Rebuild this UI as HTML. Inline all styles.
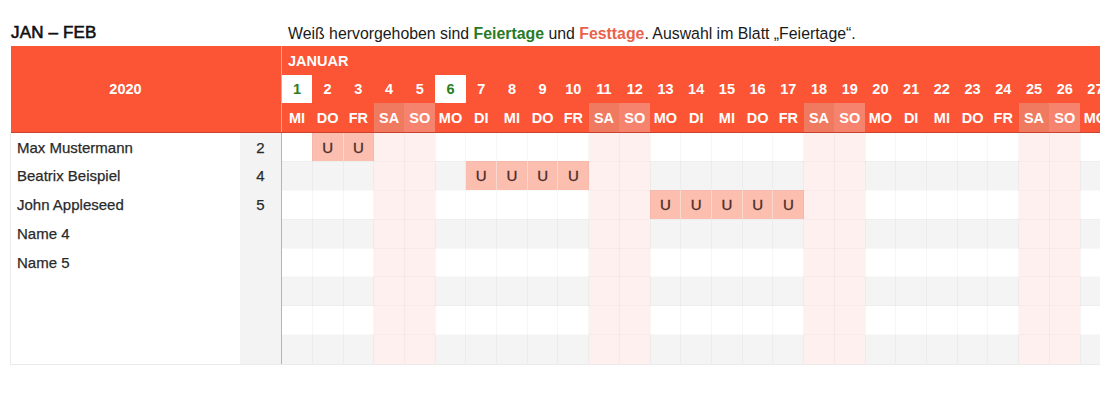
<!DOCTYPE html><html><head><meta charset="utf-8"><style>
*{margin:0;padding:0;box-sizing:border-box}
html,body{width:1100px;height:400px;overflow:hidden;background:#fff;font-family:"Liberation Sans",sans-serif;}
.a{position:absolute}
.t{position:absolute;white-space:nowrap}
</style></head><body>
<div class="t" style="left:11.00px;top:22.50px;font-size:17px;color:#111;-webkit-text-stroke:0.6px #111;line-height:20px;letter-spacing:0.15px;">JAN – FEB</div>
<div class="t" style="left:288.00px;top:24.50px;font-size:15.85px;color:#1a1a1a;line-height:18px;">Weiß hervorgehoben sind <b style="color:#287a26">Feiertage</b> und <b style="color:#e9624a">Festtage</b>. Auswahl im Blatt „Feiertage“.</div>
<div class="a" style="left:11.000px;top:46.000px;width:1089.000px;height:86.000px;background:#fb5535;"></div>
<div class="a" style="left:11.000px;top:132.000px;width:1089.000px;height:1.000px;background:#c8432f;"></div>
<div class="a" style="left:281.000px;top:46.000px;width:1.000px;height:86.000px;background:#f8a590;"></div>
<div class="a" style="left:11.000px;top:132.500px;width:229.000px;height:231.000px;background:#fff;"></div>
<div class="a" style="left:240.000px;top:132.500px;width:41.000px;height:231.000px;background:#f3f3f3;"></div>
<div class="a" style="left:281.000px;top:132.500px;width:1.000px;height:231.000px;background:#b4b4b4;"></div>
<div class="a" style="left:281.600px;top:132.500px;width:818.400px;height:28.875px;background:#fff;"></div>
<div class="a" style="left:281.600px;top:161.375px;width:818.400px;height:28.875px;background:#f4f4f4;"></div>
<div class="a" style="left:281.600px;top:190.250px;width:818.400px;height:28.875px;background:#fff;"></div>
<div class="a" style="left:281.600px;top:219.125px;width:818.400px;height:28.875px;background:#f4f4f4;"></div>
<div class="a" style="left:281.600px;top:248.000px;width:818.400px;height:28.875px;background:#fff;"></div>
<div class="a" style="left:281.600px;top:276.875px;width:818.400px;height:28.875px;background:#f4f4f4;"></div>
<div class="a" style="left:281.600px;top:305.750px;width:818.400px;height:28.875px;background:#fff;"></div>
<div class="a" style="left:281.600px;top:334.625px;width:818.400px;height:28.875px;background:#f4f4f4;"></div>
<div class="a" style="left:281.600px;top:74.500px;width:30.710px;height:28.700px;background:#fff;"></div>
<div class="a" style="left:373.730px;top:132.500px;width:30.710px;height:231.000px;background:#fdf0ee;"></div>
<div class="a" style="left:373.730px;top:103.200px;width:30.710px;height:28.800px;background:#ef7a5f;"></div>
<div class="a" style="left:404.440px;top:132.500px;width:30.710px;height:231.000px;background:#fdf0ee;"></div>
<div class="a" style="left:404.440px;top:103.200px;width:30.710px;height:28.800px;background:#f5836d;"></div>
<div class="a" style="left:435.150px;top:74.500px;width:30.710px;height:28.700px;background:#fff;"></div>
<div class="a" style="left:588.700px;top:132.500px;width:30.710px;height:231.000px;background:#fdf0ee;"></div>
<div class="a" style="left:588.700px;top:103.200px;width:30.710px;height:28.800px;background:#ef7a5f;"></div>
<div class="a" style="left:619.410px;top:132.500px;width:30.710px;height:231.000px;background:#fdf0ee;"></div>
<div class="a" style="left:619.410px;top:103.200px;width:30.710px;height:28.800px;background:#f5836d;"></div>
<div class="a" style="left:803.670px;top:132.500px;width:30.710px;height:231.000px;background:#fdf0ee;"></div>
<div class="a" style="left:803.670px;top:103.200px;width:30.710px;height:28.800px;background:#ef7a5f;"></div>
<div class="a" style="left:834.380px;top:132.500px;width:30.710px;height:231.000px;background:#fdf0ee;"></div>
<div class="a" style="left:834.380px;top:103.200px;width:30.710px;height:28.800px;background:#f5836d;"></div>
<div class="a" style="left:1018.640px;top:132.500px;width:30.710px;height:231.000px;background:#fdf0ee;"></div>
<div class="a" style="left:1018.640px;top:103.200px;width:30.710px;height:28.800px;background:#ef7a5f;"></div>
<div class="a" style="left:1049.350px;top:132.500px;width:30.710px;height:231.000px;background:#fdf0ee;"></div>
<div class="a" style="left:1049.350px;top:103.200px;width:30.710px;height:28.800px;background:#f5836d;"></div>
<div class="a" style="left:312.310px;top:132.500px;width:30.710px;height:28.875px;background:#fbbeaf;"></div>
<div class="a" style="left:343.020px;top:132.500px;width:30.710px;height:28.875px;background:#fbbeaf;"></div>
<div class="a" style="left:465.860px;top:161.375px;width:30.710px;height:28.875px;background:#fbbeaf;"></div>
<div class="a" style="left:496.570px;top:161.375px;width:30.710px;height:28.875px;background:#fbbeaf;"></div>
<div class="a" style="left:527.280px;top:161.375px;width:30.710px;height:28.875px;background:#fbbeaf;"></div>
<div class="a" style="left:557.990px;top:161.375px;width:30.710px;height:28.875px;background:#fbbeaf;"></div>
<div class="a" style="left:650.120px;top:190.250px;width:30.710px;height:28.875px;background:#fbbeaf;"></div>
<div class="a" style="left:680.830px;top:190.250px;width:30.710px;height:28.875px;background:#fbbeaf;"></div>
<div class="a" style="left:711.540px;top:190.250px;width:30.710px;height:28.875px;background:#fbbeaf;"></div>
<div class="a" style="left:742.250px;top:190.250px;width:30.710px;height:28.875px;background:#fbbeaf;"></div>
<div class="a" style="left:772.960px;top:190.250px;width:30.710px;height:28.875px;background:#fbbeaf;"></div>
<div class="a" style="left:311.810px;top:132.500px;width:1.000px;height:231.000px;background:rgba(120,90,90,0.05);"></div>
<div class="a" style="left:342.520px;top:132.500px;width:1.000px;height:231.000px;background:rgba(120,90,90,0.05);"></div>
<div class="a" style="left:373.230px;top:132.500px;width:1.000px;height:231.000px;background:rgba(120,90,90,0.05);"></div>
<div class="a" style="left:403.940px;top:132.500px;width:1.000px;height:231.000px;background:rgba(120,90,90,0.05);"></div>
<div class="a" style="left:434.650px;top:132.500px;width:1.000px;height:231.000px;background:rgba(120,90,90,0.05);"></div>
<div class="a" style="left:465.360px;top:132.500px;width:1.000px;height:231.000px;background:rgba(120,90,90,0.05);"></div>
<div class="a" style="left:496.070px;top:132.500px;width:1.000px;height:231.000px;background:rgba(120,90,90,0.05);"></div>
<div class="a" style="left:526.780px;top:132.500px;width:1.000px;height:231.000px;background:rgba(120,90,90,0.05);"></div>
<div class="a" style="left:557.490px;top:132.500px;width:1.000px;height:231.000px;background:rgba(120,90,90,0.05);"></div>
<div class="a" style="left:588.200px;top:132.500px;width:1.000px;height:231.000px;background:rgba(120,90,90,0.05);"></div>
<div class="a" style="left:618.910px;top:132.500px;width:1.000px;height:231.000px;background:rgba(120,90,90,0.05);"></div>
<div class="a" style="left:649.620px;top:132.500px;width:1.000px;height:231.000px;background:rgba(120,90,90,0.05);"></div>
<div class="a" style="left:680.330px;top:132.500px;width:1.000px;height:231.000px;background:rgba(120,90,90,0.05);"></div>
<div class="a" style="left:711.040px;top:132.500px;width:1.000px;height:231.000px;background:rgba(120,90,90,0.05);"></div>
<div class="a" style="left:741.750px;top:132.500px;width:1.000px;height:231.000px;background:rgba(120,90,90,0.05);"></div>
<div class="a" style="left:772.460px;top:132.500px;width:1.000px;height:231.000px;background:rgba(120,90,90,0.05);"></div>
<div class="a" style="left:803.170px;top:132.500px;width:1.000px;height:231.000px;background:rgba(120,90,90,0.05);"></div>
<div class="a" style="left:833.880px;top:132.500px;width:1.000px;height:231.000px;background:rgba(120,90,90,0.05);"></div>
<div class="a" style="left:864.590px;top:132.500px;width:1.000px;height:231.000px;background:rgba(120,90,90,0.05);"></div>
<div class="a" style="left:895.300px;top:132.500px;width:1.000px;height:231.000px;background:rgba(120,90,90,0.05);"></div>
<div class="a" style="left:926.010px;top:132.500px;width:1.000px;height:231.000px;background:rgba(120,90,90,0.05);"></div>
<div class="a" style="left:956.720px;top:132.500px;width:1.000px;height:231.000px;background:rgba(120,90,90,0.05);"></div>
<div class="a" style="left:987.430px;top:132.500px;width:1.000px;height:231.000px;background:rgba(120,90,90,0.05);"></div>
<div class="a" style="left:1018.140px;top:132.500px;width:1.000px;height:231.000px;background:rgba(120,90,90,0.05);"></div>
<div class="a" style="left:1048.850px;top:132.500px;width:1.000px;height:231.000px;background:rgba(120,90,90,0.05);"></div>
<div class="a" style="left:1079.560px;top:132.500px;width:1.000px;height:231.000px;background:rgba(120,90,90,0.05);"></div>
<div class="a" style="left:1110.270px;top:132.500px;width:1.000px;height:231.000px;background:rgba(120,90,90,0.05);"></div>
<div class="a" style="left:281.600px;top:160.875px;width:818.400px;height:1.000px;background:rgba(120,90,90,0.04);"></div>
<div class="a" style="left:281.600px;top:189.750px;width:818.400px;height:1.000px;background:rgba(120,90,90,0.04);"></div>
<div class="a" style="left:281.600px;top:218.625px;width:818.400px;height:1.000px;background:rgba(120,90,90,0.04);"></div>
<div class="a" style="left:281.600px;top:247.500px;width:818.400px;height:1.000px;background:rgba(120,90,90,0.04);"></div>
<div class="a" style="left:281.600px;top:276.375px;width:818.400px;height:1.000px;background:rgba(120,90,90,0.04);"></div>
<div class="a" style="left:281.600px;top:305.250px;width:818.400px;height:1.000px;background:rgba(120,90,90,0.04);"></div>
<div class="a" style="left:281.600px;top:334.125px;width:818.400px;height:1.000px;background:rgba(120,90,90,0.04);"></div>
<div class="a" style="left:342.520px;top:132.500px;width:1.000px;height:28.875px;background:rgba(255,255,255,0.45);"></div>
<div class="a" style="left:496.070px;top:161.375px;width:1.000px;height:28.875px;background:rgba(255,255,255,0.45);"></div>
<div class="a" style="left:526.780px;top:161.375px;width:1.000px;height:28.875px;background:rgba(255,255,255,0.45);"></div>
<div class="a" style="left:557.490px;top:161.375px;width:1.000px;height:28.875px;background:rgba(255,255,255,0.45);"></div>
<div class="a" style="left:680.330px;top:190.250px;width:1.000px;height:28.875px;background:rgba(255,255,255,0.45);"></div>
<div class="a" style="left:711.040px;top:190.250px;width:1.000px;height:28.875px;background:rgba(255,255,255,0.45);"></div>
<div class="a" style="left:741.750px;top:190.250px;width:1.000px;height:28.875px;background:rgba(255,255,255,0.45);"></div>
<div class="a" style="left:772.460px;top:190.250px;width:1.000px;height:28.875px;background:rgba(255,255,255,0.45);"></div>
<div class="a" style="left:10.000px;top:132.500px;width:1.000px;height:231.000px;background:#ebebeb;"></div>
<div class="a" style="left:10.000px;top:363.500px;width:1100.000px;height:1.000px;background:#ebebeb;"></div>
<div class="t" style="left:85.50px;top:79.00px;width:80.00px;text-align:center;font-size:14.5px;font-weight:bold;color:#fff;line-height:20px;">2020</div>
<div class="t" style="left:288.00px;top:51.00px;font-size:14.5px;font-weight:bold;color:#fff;line-height:20px;">JANUAR</div>
<div class="t" style="left:281.60px;top:79.00px;width:30.71px;text-align:center;font-size:14.5px;font-weight:bold;color:#2a7d22;line-height:20px;">1</div>
<div class="t" style="left:279.60px;top:108.00px;width:34.71px;text-align:center;font-size:14.5px;font-weight:bold;color:#fff;line-height:20px;">MI</div>
<div class="t" style="left:312.31px;top:79.00px;width:30.71px;text-align:center;font-size:14.5px;font-weight:bold;color:#fff;line-height:20px;">2</div>
<div class="t" style="left:310.31px;top:108.00px;width:34.71px;text-align:center;font-size:14.5px;font-weight:bold;color:#fff;line-height:20px;">DO</div>
<div class="t" style="left:343.02px;top:79.00px;width:30.71px;text-align:center;font-size:14.5px;font-weight:bold;color:#fff;line-height:20px;">3</div>
<div class="t" style="left:341.02px;top:108.00px;width:34.71px;text-align:center;font-size:14.5px;font-weight:bold;color:#fff;line-height:20px;">FR</div>
<div class="t" style="left:373.73px;top:79.00px;width:30.71px;text-align:center;font-size:14.5px;font-weight:bold;color:#fff;line-height:20px;">4</div>
<div class="t" style="left:371.73px;top:108.00px;width:34.71px;text-align:center;font-size:14.5px;font-weight:bold;color:#fff;line-height:20px;">SA</div>
<div class="t" style="left:404.44px;top:79.00px;width:30.71px;text-align:center;font-size:14.5px;font-weight:bold;color:#fff;line-height:20px;">5</div>
<div class="t" style="left:402.44px;top:108.00px;width:34.71px;text-align:center;font-size:14.5px;font-weight:bold;color:#fff;line-height:20px;">SO</div>
<div class="t" style="left:435.15px;top:79.00px;width:30.71px;text-align:center;font-size:14.5px;font-weight:bold;color:#2a7d22;line-height:20px;">6</div>
<div class="t" style="left:433.15px;top:108.00px;width:34.71px;text-align:center;font-size:14.5px;font-weight:bold;color:#fff;line-height:20px;">MO</div>
<div class="t" style="left:465.86px;top:79.00px;width:30.71px;text-align:center;font-size:14.5px;font-weight:bold;color:#fff;line-height:20px;">7</div>
<div class="t" style="left:463.86px;top:108.00px;width:34.71px;text-align:center;font-size:14.5px;font-weight:bold;color:#fff;line-height:20px;">DI</div>
<div class="t" style="left:496.57px;top:79.00px;width:30.71px;text-align:center;font-size:14.5px;font-weight:bold;color:#fff;line-height:20px;">8</div>
<div class="t" style="left:494.57px;top:108.00px;width:34.71px;text-align:center;font-size:14.5px;font-weight:bold;color:#fff;line-height:20px;">MI</div>
<div class="t" style="left:527.28px;top:79.00px;width:30.71px;text-align:center;font-size:14.5px;font-weight:bold;color:#fff;line-height:20px;">9</div>
<div class="t" style="left:525.28px;top:108.00px;width:34.71px;text-align:center;font-size:14.5px;font-weight:bold;color:#fff;line-height:20px;">DO</div>
<div class="t" style="left:557.99px;top:79.00px;width:30.71px;text-align:center;font-size:14.5px;font-weight:bold;color:#fff;line-height:20px;">10</div>
<div class="t" style="left:555.99px;top:108.00px;width:34.71px;text-align:center;font-size:14.5px;font-weight:bold;color:#fff;line-height:20px;">FR</div>
<div class="t" style="left:588.70px;top:79.00px;width:30.71px;text-align:center;font-size:14.5px;font-weight:bold;color:#fff;line-height:20px;">11</div>
<div class="t" style="left:586.70px;top:108.00px;width:34.71px;text-align:center;font-size:14.5px;font-weight:bold;color:#fff;line-height:20px;">SA</div>
<div class="t" style="left:619.41px;top:79.00px;width:30.71px;text-align:center;font-size:14.5px;font-weight:bold;color:#fff;line-height:20px;">12</div>
<div class="t" style="left:617.41px;top:108.00px;width:34.71px;text-align:center;font-size:14.5px;font-weight:bold;color:#fff;line-height:20px;">SO</div>
<div class="t" style="left:650.12px;top:79.00px;width:30.71px;text-align:center;font-size:14.5px;font-weight:bold;color:#fff;line-height:20px;">13</div>
<div class="t" style="left:648.12px;top:108.00px;width:34.71px;text-align:center;font-size:14.5px;font-weight:bold;color:#fff;line-height:20px;">MO</div>
<div class="t" style="left:680.83px;top:79.00px;width:30.71px;text-align:center;font-size:14.5px;font-weight:bold;color:#fff;line-height:20px;">14</div>
<div class="t" style="left:678.83px;top:108.00px;width:34.71px;text-align:center;font-size:14.5px;font-weight:bold;color:#fff;line-height:20px;">DI</div>
<div class="t" style="left:711.54px;top:79.00px;width:30.71px;text-align:center;font-size:14.5px;font-weight:bold;color:#fff;line-height:20px;">15</div>
<div class="t" style="left:709.54px;top:108.00px;width:34.71px;text-align:center;font-size:14.5px;font-weight:bold;color:#fff;line-height:20px;">MI</div>
<div class="t" style="left:742.25px;top:79.00px;width:30.71px;text-align:center;font-size:14.5px;font-weight:bold;color:#fff;line-height:20px;">16</div>
<div class="t" style="left:740.25px;top:108.00px;width:34.71px;text-align:center;font-size:14.5px;font-weight:bold;color:#fff;line-height:20px;">DO</div>
<div class="t" style="left:772.96px;top:79.00px;width:30.71px;text-align:center;font-size:14.5px;font-weight:bold;color:#fff;line-height:20px;">17</div>
<div class="t" style="left:770.96px;top:108.00px;width:34.71px;text-align:center;font-size:14.5px;font-weight:bold;color:#fff;line-height:20px;">FR</div>
<div class="t" style="left:803.67px;top:79.00px;width:30.71px;text-align:center;font-size:14.5px;font-weight:bold;color:#fff;line-height:20px;">18</div>
<div class="t" style="left:801.67px;top:108.00px;width:34.71px;text-align:center;font-size:14.5px;font-weight:bold;color:#fff;line-height:20px;">SA</div>
<div class="t" style="left:834.38px;top:79.00px;width:30.71px;text-align:center;font-size:14.5px;font-weight:bold;color:#fff;line-height:20px;">19</div>
<div class="t" style="left:832.38px;top:108.00px;width:34.71px;text-align:center;font-size:14.5px;font-weight:bold;color:#fff;line-height:20px;">SO</div>
<div class="t" style="left:865.09px;top:79.00px;width:30.71px;text-align:center;font-size:14.5px;font-weight:bold;color:#fff;line-height:20px;">20</div>
<div class="t" style="left:863.09px;top:108.00px;width:34.71px;text-align:center;font-size:14.5px;font-weight:bold;color:#fff;line-height:20px;">MO</div>
<div class="t" style="left:895.80px;top:79.00px;width:30.71px;text-align:center;font-size:14.5px;font-weight:bold;color:#fff;line-height:20px;">21</div>
<div class="t" style="left:893.80px;top:108.00px;width:34.71px;text-align:center;font-size:14.5px;font-weight:bold;color:#fff;line-height:20px;">DI</div>
<div class="t" style="left:926.51px;top:79.00px;width:30.71px;text-align:center;font-size:14.5px;font-weight:bold;color:#fff;line-height:20px;">22</div>
<div class="t" style="left:924.51px;top:108.00px;width:34.71px;text-align:center;font-size:14.5px;font-weight:bold;color:#fff;line-height:20px;">MI</div>
<div class="t" style="left:957.22px;top:79.00px;width:30.71px;text-align:center;font-size:14.5px;font-weight:bold;color:#fff;line-height:20px;">23</div>
<div class="t" style="left:955.22px;top:108.00px;width:34.71px;text-align:center;font-size:14.5px;font-weight:bold;color:#fff;line-height:20px;">DO</div>
<div class="t" style="left:987.93px;top:79.00px;width:30.71px;text-align:center;font-size:14.5px;font-weight:bold;color:#fff;line-height:20px;">24</div>
<div class="t" style="left:985.93px;top:108.00px;width:34.71px;text-align:center;font-size:14.5px;font-weight:bold;color:#fff;line-height:20px;">FR</div>
<div class="t" style="left:1018.64px;top:79.00px;width:30.71px;text-align:center;font-size:14.5px;font-weight:bold;color:#fff;line-height:20px;">25</div>
<div class="t" style="left:1016.64px;top:108.00px;width:34.71px;text-align:center;font-size:14.5px;font-weight:bold;color:#fff;line-height:20px;">SA</div>
<div class="t" style="left:1049.35px;top:79.00px;width:30.71px;text-align:center;font-size:14.5px;font-weight:bold;color:#fff;line-height:20px;">26</div>
<div class="t" style="left:1047.35px;top:108.00px;width:34.71px;text-align:center;font-size:14.5px;font-weight:bold;color:#fff;line-height:20px;">SO</div>
<div class="t" style="left:1080.06px;top:79.00px;width:30.71px;text-align:center;font-size:14.5px;font-weight:bold;color:#fff;line-height:20px;">27</div>
<div class="t" style="left:1078.06px;top:108.00px;width:34.71px;text-align:center;font-size:14.5px;font-weight:bold;color:#fff;line-height:20px;">MO</div>
<div class="t" style="left:1110.77px;top:79.00px;width:30.71px;text-align:center;font-size:14.5px;font-weight:bold;color:#fff;line-height:20px;">28</div>
<div class="t" style="left:1108.77px;top:108.00px;width:34.71px;text-align:center;font-size:14.5px;font-weight:bold;color:#fff;line-height:20px;">DI</div>
<div class="t" style="left:17.00px;top:138.50px;font-size:15px;color:#2a2a2a;-webkit-text-stroke:0.25px #2a2a2a;line-height:18px;">Max Mustermann</div>
<div class="t" style="left:245.50px;top:138.50px;width:30.00px;text-align:center;font-size:15px;color:#2a2a2a;-webkit-text-stroke:0.25px #2a2a2a;line-height:18px;">2</div>
<div class="t" style="left:17.00px;top:167.38px;font-size:15px;color:#2a2a2a;-webkit-text-stroke:0.25px #2a2a2a;line-height:18px;">Beatrix Beispiel</div>
<div class="t" style="left:245.50px;top:167.38px;width:30.00px;text-align:center;font-size:15px;color:#2a2a2a;-webkit-text-stroke:0.25px #2a2a2a;line-height:18px;">4</div>
<div class="t" style="left:17.00px;top:196.25px;font-size:15px;color:#2a2a2a;-webkit-text-stroke:0.25px #2a2a2a;line-height:18px;">John Appleseed</div>
<div class="t" style="left:245.50px;top:196.25px;width:30.00px;text-align:center;font-size:15px;color:#2a2a2a;-webkit-text-stroke:0.25px #2a2a2a;line-height:18px;">5</div>
<div class="t" style="left:17.00px;top:225.12px;font-size:15px;color:#2a2a2a;-webkit-text-stroke:0.25px #2a2a2a;line-height:18px;">Name 4</div>
<div class="t" style="left:17.00px;top:254.00px;font-size:15px;color:#2a2a2a;-webkit-text-stroke:0.25px #2a2a2a;line-height:18px;">Name 5</div>
<div class="t" style="left:312.31px;top:138.50px;width:30.71px;text-align:center;font-size:15px;color:#4a2a28;-webkit-text-stroke:0.3px #4a2a28;line-height:18px;">U</div>
<div class="t" style="left:343.02px;top:138.50px;width:30.71px;text-align:center;font-size:15px;color:#4a2a28;-webkit-text-stroke:0.3px #4a2a28;line-height:18px;">U</div>
<div class="t" style="left:465.86px;top:167.38px;width:30.71px;text-align:center;font-size:15px;color:#4a2a28;-webkit-text-stroke:0.3px #4a2a28;line-height:18px;">U</div>
<div class="t" style="left:496.57px;top:167.38px;width:30.71px;text-align:center;font-size:15px;color:#4a2a28;-webkit-text-stroke:0.3px #4a2a28;line-height:18px;">U</div>
<div class="t" style="left:527.28px;top:167.38px;width:30.71px;text-align:center;font-size:15px;color:#4a2a28;-webkit-text-stroke:0.3px #4a2a28;line-height:18px;">U</div>
<div class="t" style="left:557.99px;top:167.38px;width:30.71px;text-align:center;font-size:15px;color:#4a2a28;-webkit-text-stroke:0.3px #4a2a28;line-height:18px;">U</div>
<div class="t" style="left:650.12px;top:196.25px;width:30.71px;text-align:center;font-size:15px;color:#4a2a28;-webkit-text-stroke:0.3px #4a2a28;line-height:18px;">U</div>
<div class="t" style="left:680.83px;top:196.25px;width:30.71px;text-align:center;font-size:15px;color:#4a2a28;-webkit-text-stroke:0.3px #4a2a28;line-height:18px;">U</div>
<div class="t" style="left:711.54px;top:196.25px;width:30.71px;text-align:center;font-size:15px;color:#4a2a28;-webkit-text-stroke:0.3px #4a2a28;line-height:18px;">U</div>
<div class="t" style="left:742.25px;top:196.25px;width:30.71px;text-align:center;font-size:15px;color:#4a2a28;-webkit-text-stroke:0.3px #4a2a28;line-height:18px;">U</div>
<div class="t" style="left:772.96px;top:196.25px;width:30.71px;text-align:center;font-size:15px;color:#4a2a28;-webkit-text-stroke:0.3px #4a2a28;line-height:18px;">U</div>
</body></html>
